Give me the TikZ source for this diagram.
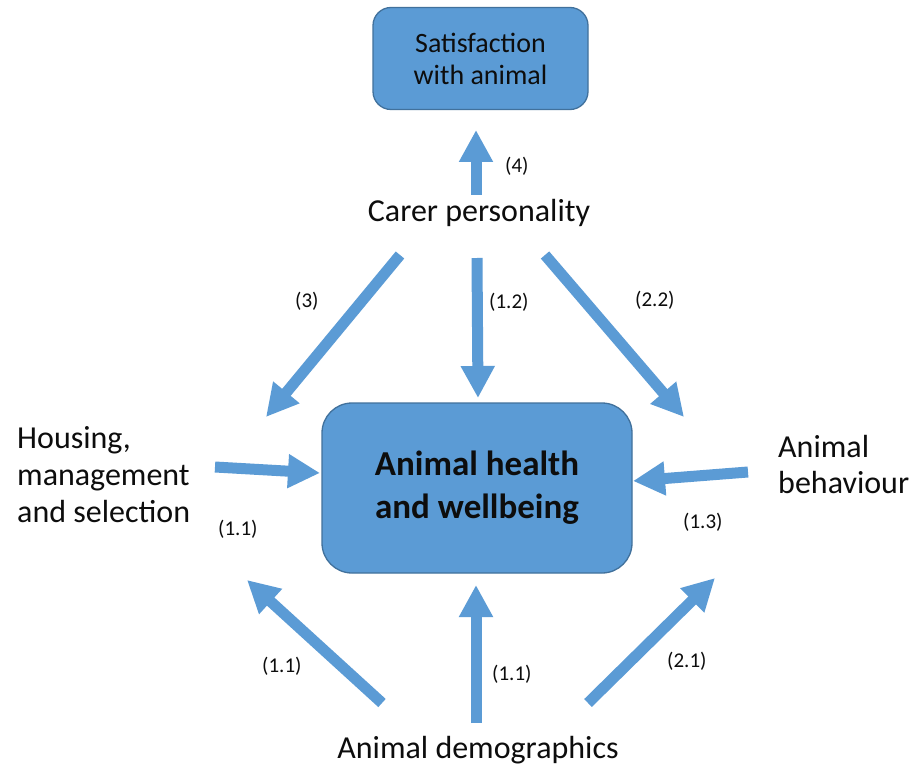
\documentclass[tikz,border=0pt]{standalone}
\usepackage{fontspec}
\setmainfont{Carlito}
\usetikzlibrary{arrows.meta}
\definecolor{boxblue}{HTML}{5B9BD5}
\definecolor{boxedge}{HTML}{41719C}
\definecolor{txt}{HTML}{0D0D0D}
\begin{document}
\begin{tikzpicture}[x=1pt,y=-1pt,
  bigarrow/.style={draw=boxblue, line width=11pt, -{Triangle[length=32pt,width=32pt]}},
  lbl/.style={font=\fontsize{32}{37}\selectfont, text=txt, inner sep=0pt},
  num/.style={font=\fontsize{21}{24}\selectfont, text=txt, inner sep=0pt, anchor=base west},
  bluebox/.style={draw=boxedge, fill=boxblue, line width=1.3pt, text=txt, align=center, inner sep=0pt}]
\useasboundingbox (0,0) rectangle (917,767);
\fill[white] (0,0) rectangle (917,767);

% boxes
\node[bluebox, minimum width=215pt, minimum height=102pt, rounded corners=18pt,
      font=\fontsize{28}{32}\selectfont] (sat) at (480.5,58.5) {Satisfaction\\with animal};
\node[bluebox, minimum width=310pt, minimum height=170pt, rounded corners=30pt,
      font=\bfseries\fontsize{35}{43}\selectfont] (main) at (477,488) {Animal health\\and wellbeing};

% text labels
\node[lbl, anchor=base] (carer) at (479,222) {Carer personality};
\node[lbl, anchor=base west, align=left, font=\fontsize{32}{37}\selectfont] (housing) at (17,522)
  {Housing,\\management\\and selection};
\node[lbl, anchor=base west, align=left, font=\fontsize{32}{36}\selectfont] (behav) at (778,493)
  {Animal\\behaviour};
\node[lbl, anchor=base] (demo) at (478,758) {Animal demographics};

% arrow end points
\coordinate (a4s) at (476,195);  \coordinate (a4e) at (476,130);
\coordinate (a12s) at (477,258); \coordinate (a12e) at (478,398);
\coordinate (a3s) at (400,255);  \coordinate (a3e) at (266,417);
\coordinate (a22s) at (545,255); \coordinate (a22e) at (684,417);
\coordinate (ahs) at (215,467);  \coordinate (ahe) at (320,473);
\coordinate (abs) at (748,472);  \coordinate (abe) at (633,481);
\coordinate (ad1s) at (382,703); \coordinate (ad1e) at (247,580);
\coordinate (ad2s) at (476,723); \coordinate (ad2e) at (476,585);
\coordinate (ad3s) at (588,703); \coordinate (ad3e) at (715,578);

\draw[bigarrow] (a4s) -- (a4e);
\draw[bigarrow] (a12s) -- (a12e);
\draw[bigarrow] (a3s) -- (a3e);
\draw[bigarrow] (a22s) -- (a22e);
\draw[bigarrow] (ahs) -- (ahe);
\draw[bigarrow] (abs) -- (abe);
\draw[bigarrow] (ad1s) -- (ad1e);
\draw[bigarrow] (ad2s) -- (ad2e);
\draw[bigarrow] (ad3s) -- (ad3e);

% numeric labels
\node[num] (n4) at (505,173) {(4)};
\node[num] (n3) at (295,307) {(3)};
\node[num] (n12) at (489,308) {(1.2)};
\node[num] (n22) at (635,306) {(2.2)};
\node[num] (n11a) at (218,535) {(1.1)};
\node[num] (n13) at (683,528) {(1.3)};
\node[num] (n11b) at (262,672) {(1.1)};
\node[num] (n11c) at (492,680) {(1.1)};
\node[num] (n21) at (667,667) {(2.1)};
\end{tikzpicture}
\end{document}
